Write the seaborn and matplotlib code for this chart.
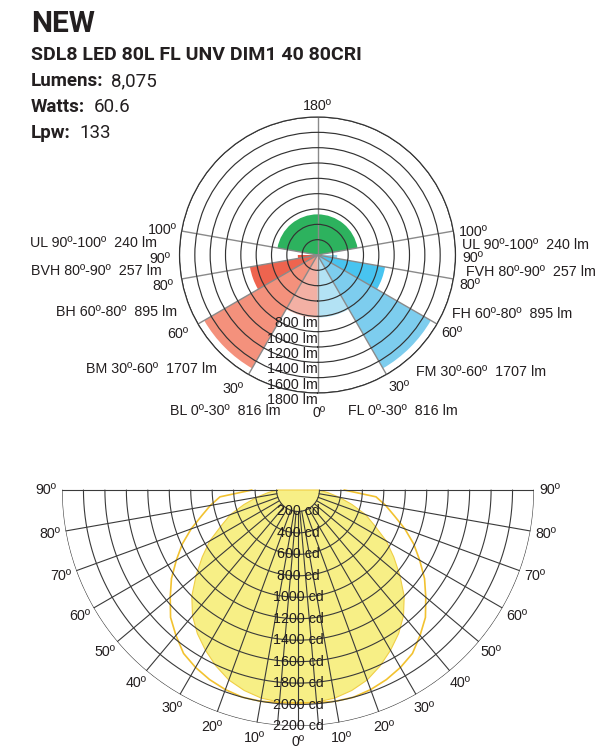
import numpy as np
import matplotlib
matplotlib.use("Agg")
import matplotlib.pyplot as plt
import seaborn as sns
from matplotlib import font_manager

# ---- header info
title = "NEW"
model = "SDL8 LED 80L FL UNV DIM1 40 80CRI"
spec_keys = ["Lumens:", "Watts:", "Lpw:"]
spec_values = ["8,075", "60.6", "133"]

# ---- lumen zones (top chart), same on back (left) and front (right) side
zone_start = [0, 30, 60, 80]
zone_end = [30, 60, 80, 90]
zone_lumens = [816, 1707, 895, 257]
back_names = ["BL", "BM", "BH", "BVH"]
front_names = ["FL", "FM", "FH", "FVH"]
back_colors = ["#F3B0A4", "#F4917C", "#EE644F", "#EE5441"]
front_colors = ["#B3E2F4", "#7DCDEE", "#48C4F0", "#92D5EC"]
uplight_span = (100, 260)
uplight_value = 530
ul_label = "UL 90º-100º  240 lm"
ring_lm = [200, 400, 600, 800, 1000, 1200, 1400, 1600, 1800]
ring_lm_labels = ["800 lm", "1000 lm", "1200 lm", "1400 lm", "1600 lm", "1800 lm"]
spoke_deg = [0, 30, 60, 80, 100, 180, 260, 280, 300, 330]

# ---- candela distribution (bottom chart)
cd_angles = [0, 5, 10, 15, 20, 25, 30, 35, 40, 45, 50, 55, 60, 65, 70, 75, 80, 85, 90]
cd_plane_fill = [1990, 1985, 1970, 1935, 1885, 1810, 1725, 1635, 1530, 1400,
                 1240, 1090, 950, 790, 670, 520, 390, 280, 190]
cd_plane_line = [1985, 1990, 2000, 2000, 1980, 1950, 1910, 1860, 1770, 1680,
                 1555, 1440, 1310, 1190, 1060, 930, 830, 730, 430]
cd_rings = [200, 400, 600, 800, 1000, 1200, 1400, 1600, 1800, 2000, 2200]
cd_spokes = [-90, -80, -70, -60, -50, -40, -30, -20, -10, -5, 0, 5, 10, 20, 30, 40, 50, 60, 70, 80, 90]
cd_deg_labels = [0, 10, 20, 30, 40, 50, 60, 70, 80, 90]


def has_font(name):
    try:
        font_manager.findfont(name, fallback_to_default=False)
        return True
    except ValueError:
        return False


sns.set_theme(style="white")
narrow = has_font("Liberation Sans Narrow")
lab_font = "Liberation Sans Narrow" if narrow else "Liberation Sans"
fs = 12 if narrow else 10.3
plt.rcParams["font.family"] = [lab_font, "DejaVu Sans"]

W, H = 604, 752
fig = plt.figure(figsize=(W / 100, H / 100), dpi=100)
ink = "#231F20"


def ftext(x, y, s, **kw):
    kw.setdefault("color", ink)
    kw.setdefault("va", "baseline")
    return fig.text(x / W, 1 - y / H, s, **kw)


# ---- header
head = ["Roboto", "DejaVu Sans"]
ftext(31, 32, title, fontsize=21.5, weight="bold", family=head)
ftext(31, 60.5, model, fontsize=14, weight="bold", family=head)
for i, (k, v) in enumerate(zip(spec_keys, spec_values)):
    yb = 86.5 + i * 25.7
    ftext(31, yb, k, fontsize=13.5, weight="bold", family=head)
    xv = [111.5, 93.5, 79][i]
    ftext(xv, yb, v, fontsize=13.5, family=head)

# ---- bottom candela chart (full polar axes, only lower half drawn)
cx2, cy2, R2 = 298, 490, 236
ax2 = fig.add_axes([(cx2 - R2) / W, 1 - (cy2 + R2) / H, 2 * R2 / W, 2 * R2 / H], projection="polar")
ax2.set_theta_zero_location("S")
ax2.axis("off")

ang = np.array(cd_angles, dtype=float)
th_full = np.deg2rad(np.concatenate([-ang[::-1], ang[1:]]))
r_fill = np.concatenate([np.array(cd_plane_fill)[::-1], cd_plane_fill[1:]])
r_line = np.concatenate([np.array(cd_plane_line)[::-1], cd_plane_line[1:]])

ax2.fill(np.concatenate([th_full, [np.pi / 2, -np.pi / 2]]),
         np.concatenate([r_fill, [0, 0]]),
         facecolor="#F7EF86", edgecolor="#F0CE45", lw=0.8, zorder=1)
sns.lineplot(x=th_full, y=r_line, sort=False, estimator=None, ax=ax2,
             color="#F2C230", lw=1.2, zorder=2)

th_arc = np.linspace(-np.pi / 2, np.pi / 2, 300)
for r in cd_rings:
    ax2.plot(th_arc, np.full_like(th_arc, r), color="#3a3a3a", lw=0.8, zorder=3)
for a in cd_spokes:
    ax2.plot([np.deg2rad(a)] * 2, [cd_rings[0], cd_rings[-1]], color="#3a3a3a", lw=0.8, zorder=3)
for r in cd_rings:
    ax2.text(0, r, f"{r} cd", ha="center", va="center", fontsize=fs, color=ink, zorder=4)
for a in cd_deg_labels:
    for s in ([1, -1] if a else [1]):
        ax2.text(np.deg2rad(s * a), 2350, f"{a}º", ha="center", va="center",
                 fontsize=fs, color=ink, clip_on=False)
ax2.set_xlim(-np.pi, np.pi)
ax2.set_ylim(0, 2200)

# ---- top lumen-zone chart
cx1, cy1, R1 = 317.5, 255, 138
ax1 = fig.add_axes([(cx1 - R1) / W, 1 - (cy1 + R1) / H, 2 * R1 / W, 2 * R1 / H], projection="polar")
ax1.set_theta_zero_location("S")
mid = np.array([(a + b) / 2 for a, b in zip(zone_start, zone_end)])
span = np.deg2rad([b - a for a, b in zip(zone_start, zone_end)])
ax1.bar(np.deg2rad(mid), zone_lumens, width=span, bottom=0, color=front_colors, edgecolor="none", zorder=1)
ax1.bar(np.deg2rad(360 - mid), zone_lumens, width=span, bottom=0, color=back_colors, edgecolor="none", zorder=1)
ax1.bar(np.deg2rad(np.mean(uplight_span)), uplight_value,
        width=np.deg2rad(uplight_span[1] - uplight_span[0]), bottom=0,
        color="#2DB25E", edgecolor="none", zorder=1)
ax1.set_xlim(0, 2 * np.pi)
ax1.set_ylim(0, ring_lm[-1])
ax1.set_yticks(ring_lm)
ax1.set_yticklabels([])
ax1.set_xticks(np.deg2rad(spoke_deg))
ax1.set_xticklabels([])
ax1.set_axisbelow(False)
ax1.xaxis.grid(True, color="#8a8a8a", lw=1.0)
ax1.yaxis.grid(True, color="#333333", lw=0.85)
ax1.spines["polar"].set_color("#333333")
ax1.spines["polar"].set_linewidth(0.85)
ax1.set_facecolor("none")
for s in ring_lm_labels:
    ax1.text(0, int(s.split()[0]), s, ha="right", va="top", fontsize=fs, color=ink, zorder=4)

# zone and angle labels around the top chart
ftext(317.5, 110, "180º", ha="center", fontsize=fs)
ftext(319, 417, "0º", ha="center", fontsize=fs)
left = [(157, 247, ul_label), (177, 234, "100º"), (170, 263, "90º"), (173, 290, "80º"),
        (188, 338, "60º"), (243, 393, "30º")]
right = [(462, 249, ul_label), (459, 236, "100º"), (462, 262, "90º"), (459, 289, "80º"),
         (441, 337, "60º"), (388, 391, "30º")]
back_pos = [(281, 415), (217, 373), (177, 316), (162, 275)]
front_pos = [(348, 415), (416, 376), (452, 318), (466, 276)]
for i in range(len(zone_lumens)):
    rng = f"{zone_start[i]}º-{zone_end[i]}º  {zone_lumens[i]} lm"
    left.append((*back_pos[i], f"{back_names[i]} {rng}"))
    right.append((*front_pos[i], f"{front_names[i]} {rng}"))
for x, y, s in left:
    ftext(x, y, s, ha="right", fontsize=fs)
for x, y, s in right:
    ftext(x, y, s, ha="left", fontsize=fs)

fig.savefig("out.png", dpi=100, facecolor="white")
